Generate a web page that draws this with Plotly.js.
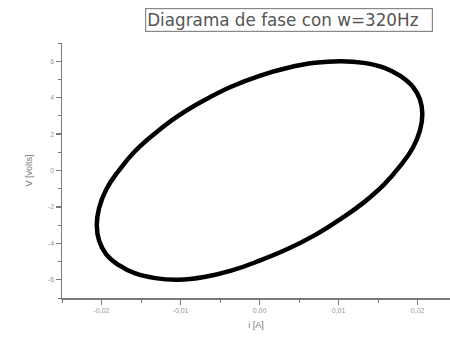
<!DOCTYPE html>
<html>
<head>
<meta charset="utf-8">
<script src="https://cdn.plot.ly/plotly-3.0.1.min.js"></script>
<style>html,body{margin:0;padding:0;background:#fff;}#chart{width:450px;height:337px;}</style>
</head>
<body>
<div id="chart"></div>
<script>
// Current i [A]
var currentA = [0.0206, 0.0203, 0.0194, 0.0178, 0.0158, 0.0132, 0.0103, 0.0070, 0.0036, 0.0000,
  -0.0036, -0.0070, -0.0103, -0.0132, -0.0158, -0.0178, -0.0194, -0.0203, -0.0206, -0.0203,
  -0.0194, -0.0178, -0.0158, -0.0132, -0.0103, -0.0070, -0.0036, 0.0000, 0.0036, 0.0070,
  0.0103, 0.0132, 0.0158, 0.0178, 0.0194, 0.0203, 0.0206];
// Voltage V [volts]
var voltageV = [3.1, 3.9, 4.6, 5.2, 5.64, 5.91, 6.0, 5.91, 5.64, 5.2,
  4.6, 3.86, 3.0, 2.05, 1.04, 0.0, -1.04, -2.05, -3.0, -3.86,
  -4.6, -5.2, -5.64, -5.91, -6.0, -5.85, -5.5, -4.95, -4.3, -3.55,
  -2.65, -1.75, -0.75, 0.25, 1.25, 2.2, 3.1];
var xTickVals = [-0.02, -0.01, 0.0, 0.01, 0.02];
var xTickText = ["-0,02", "-0,01", "0,00", "0,01", "0,02"];
var yTickVals = [-6, -4, -2, 0, 2, 4, 6];
var yTickText = ["-6", "-4", "-2", "0", "2", "4", "6"];
var titleText = "Diagrama de fase con w=320Hz";

var trace = {
  x: currentA, y: voltageV, type: 'scatter', mode: 'lines',
  line: {color: '#000', width: 4.5, shape: 'spline', smoothing: 1.3},
  hoverinfo: 'skip'
};

var axisCommon = {
  showgrid: false, zeroline: false, showline: true, linecolor: '#7a7a7a', linewidth: 1.5,
  ticks: 'outside', ticklen: 5, tickwidth: 1.2, tickcolor: '#7a7a7a',
  tickfont: {family: 'Liberation Sans, Arial, sans-serif', size: 7, color: '#999'},
  tickmode: 'array'
};

var layout = {
  width: 450, height: 337,
  margin: {l: 62, r: 0, t: 43, b: 39},
  paper_bgcolor: '#fff', plot_bgcolor: '#fff',
  showlegend: false,
  xaxis: Object.assign({}, axisCommon, {
    range: [-0.025, 0.0241], tickvals: xTickVals, ticktext: xTickText,
    minor: {dtick: 0.005, ticks: 'outside', ticklen: 3, tickcolor: '#7a7a7a', tickwidth: 1},
    title: {text: 'i [A]', font: {family: 'Liberation Sans, Arial, sans-serif', size: 9, color: '#777'}, standoff: 9}
  }),
  yaxis: Object.assign({}, axisCommon, {
    range: [-7, 7], tickvals: yTickVals, ticktext: yTickText,
    minor: {dtick: 1, ticks: 'outside', ticklen: 3, tickcolor: '#7a7a7a', tickwidth: 1},
    title: {text: 'V [volts]', font: {family: 'Liberation Sans, Arial, sans-serif', size: 9, color: '#777'}, standoff: 13}
  }),
  annotations: [{
    text: titleText, xref: 'paper', yref: 'paper', x: 0.214, y: 1.043,
    xanchor: 'left', yanchor: 'bottom', align: 'left',
    showarrow: false, width: 284, height: 20,
    font: {family: 'DejaVu Sans, sans-serif', size: 16.8, color: '#555'},
    bordercolor: '#888', borderwidth: 1.2, borderpad: 1, bgcolor: '#fff'
  }]
};

Plotly.newPlot('chart', [trace], layout, {staticPlot: true, displayModeBar: false});
</script>
</body>
</html>
